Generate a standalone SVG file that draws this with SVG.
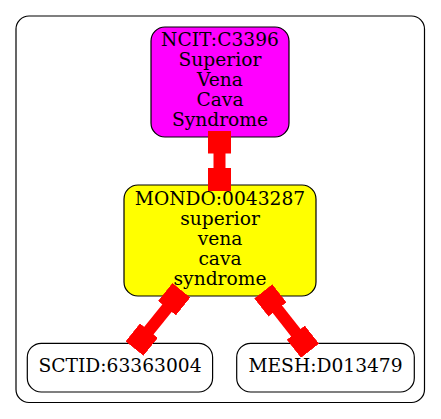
<svg xmlns="http://www.w3.org/2000/svg" width="441" height="419" viewBox="0 0 441 419">
  <style>
    .node { stroke: #000; stroke-width: 1.2; }
    .lbl { font-family: "DejaVu Serif", "Liberation Serif", serif; font-size: 18.67px; fill: #000; text-anchor: middle; }
    .edge { stroke: #ff0000; stroke-width: 12; fill: none; marker-start: url(#box); marker-end: url(#box); }
  </style>
  <defs>
    <marker id="box" viewBox="-11.5 -11.5 23 23" markerWidth="23" markerHeight="23" refX="0" refY="0" markerUnits="userSpaceOnUse" orient="auto">
      <rect x="-11.5" y="-11.5" width="23" height="23" fill="#ff0000"/>
    </marker>
  </defs>
  <rect width="441" height="419" fill="#fff"/>
  <g id="cluster">
    <rect x="16" y="16" width="408.5" height="386.5" rx="13" ry="13" fill="none" stroke="#000" stroke-width="1.2"/>
  </g>
  <g id="ncit">
    <rect class="node" x="151" y="27" width="138" height="110" rx="14" ry="14" fill="#ff00ff"/>
    <text class="lbl" x="220" y="46.3">NCIT:C3396</text>
    <text class="lbl" x="220" y="66.3">Superior</text>
    <text class="lbl" x="220" y="86.3">Vena</text>
    <text class="lbl" x="220" y="106.3">Cava</text>
    <text class="lbl" x="220" y="126.3">Syndrome</text>
  </g>
  <g id="mondo">
    <rect class="node" x="124" y="185" width="192" height="111" rx="14" ry="14" fill="#ffff00"/>
    <text class="lbl" x="220" y="205.3">MONDO:0043287</text>
    <text class="lbl" x="220" y="225.3">superior</text>
    <text class="lbl" x="220" y="245.3">vena</text>
    <text class="lbl" x="220" y="265.3">cava</text>
    <text class="lbl" x="220" y="285.3">syndrome</text>
  </g>
  <g id="sctid">
    <rect class="node" x="27.3" y="343.3" width="185.3" height="48.7" rx="14" ry="14" fill="#fff"/>
    <text class="lbl" x="120" y="372.4">SCTID:63363004</text>
  </g>
  <g id="mesh">
    <rect class="node" x="236.7" y="343.3" width="177.6" height="48.7" rx="14" ry="14" fill="#fff"/>
    <text class="lbl" x="325.5" y="372.4">MESH:D013479</text>
  </g>
  <g id="connectors">
    <path class="edge" d="M219.5,142 L219.5,179.5"/>
    <path class="edge" d="M174.2,299.2 L141.7,339.6"/>
    <path class="edge" d="M270.4,300.4 L302.9,341.7"/>
  </g>
</svg>
